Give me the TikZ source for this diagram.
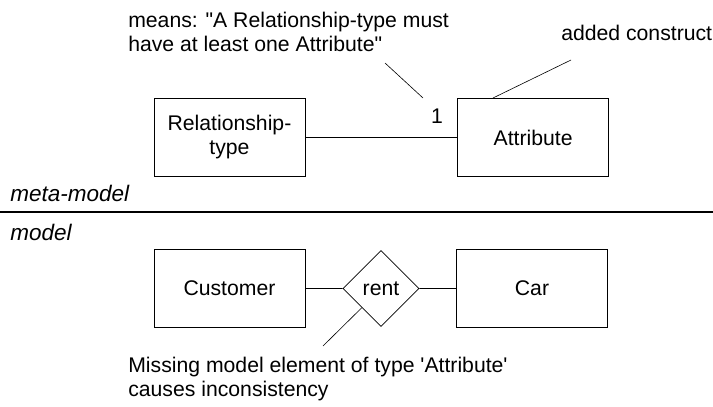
\documentclass[tikz,border=0pt]{standalone}
\usepackage{fontspec}
\setmainfont{Liberation Sans}
\usetikzlibrary{shapes.geometric,positioning}

\begin{document}
\begin{tikzpicture}[x=1pt,y=-1pt,semithick,
    entity/.style={draw,rectangle,minimum width=151pt,minimum height=78pt,align=center,inner sep=0pt},
    relation/.style={draw,diamond,aspect=1,minimum size=76pt,inner sep=0pt},
    note/.style={anchor=west,align=left,inner sep=0pt},
    every node/.style={font=\fontsize{21.2}{24}\selectfont}]
	  \useasboundingbox (0,0) rectangle (713,407);
	  % meta-model
	  \node[entity] (reltype) at (229.5,137.5) {Relationship-\\type};
	  \node[entity] (attr) [right=152pt of reltype] {Attribute};
	  \node (one) at (437,116) {1};
	  \node[note] (means) at (128,32) {means: \textquotedbl A Relationship-type must\\have at least one Attribute\textquotedbl};
	  \node[note] (added) at (561,33) {added construct};
	  \coordinate (onetip) at (423,98);
	  \coordinate (meanstip) at (385,63);
	  \coordinate (addtip) at (493,98);
	  \coordinate (addtail) at (571,60);
	  \path[draw]
(reltype) -- (attr)
(meanstip) -- (onetip)
(addtail) -- (addtip);
	  % separator
	  \node[note,font=\fontsize{22.5}{24}\selectfont\itshape] (meta) at (10,193) {meta-model};
	  \node[note,font=\fontsize{22.5}{24}\selectfont\itshape] (mod) at (10,232) {model};
	  \coordinate (sepl) at (0,212);
	  \coordinate (sepr) at (713,212);
	  \draw[line width=1.5pt] (sepl) -- (sepr);
	  % model
	  \node[entity] (cust) at (229.5,288.5) {Customer};
	  \node[relation] (rent) at (381,288.5) {rent};
	  \node[entity] (car) at (532,288.5) {Car};
	  \node[note] (missing) at (128,379) {Missing model element of type \textquotesingle Attribute\textquotesingle\\causes inconsistency};
	  \coordinate (misstip) at (323,346);
	  \path[draw]
(cust) -- (rent)
(rent) -- (car)
(misstip) -- (rent.south west);
	\end{tikzpicture}
\end{document}
